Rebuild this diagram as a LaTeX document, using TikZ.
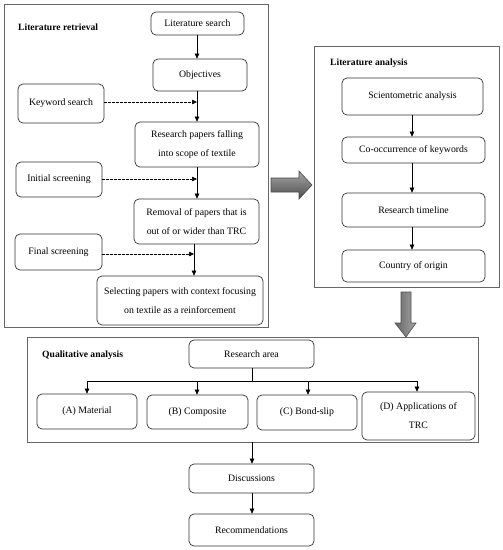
\documentclass[tikz,border=0pt]{standalone}
\usepackage{fontspec}
\setmainfont{Liberation Serif}
\usetikzlibrary{arrows.meta,calc}
\begin{document}
\begin{tikzpicture}[x=1pt,y=-1pt,
  box/.style={draw=black!80, line width=0.7pt, rounded corners=5pt, align=center,
    inner sep=1pt, font=\fontsize{9.8}{19}\selectfont},
  frame/.style={draw=black!60, line width=0.8pt},
  title/.style={anchor=west, font=\fontsize{9.6}{11}\selectfont\bfseries, inner sep=0pt},
  arr/.style={-{Triangle[length=5pt,width=4.5pt]}, line width=0.6pt},
  darr/.style={-{Triangle[length=5pt,width=4.5pt]}, line width=0.6pt, dashed, dash pattern=on 2.5pt off 1.5pt},
  bigarrow/.style={draw=black!70, line width=0.6pt}
]
\useasboundingbox (0,0) rectangle (503,550);

% ---- Frame 1: Literature retrieval
\draw[frame] (4,4) rectangle (268,327);
\node[title] (t1) at (18,27) {Literature retrieval};
\node[box, minimum width=93pt, minimum height=23pt] (ls) at (197.5,23.5) {Literature search};
\node[box, minimum width=94pt, minimum height=32pt] (obj) at (200,75) {Objectives};
\node[box, minimum width=86pt, minimum height=39pt] (kw) at (61,103.5) {Keyword search};
\node[box, minimum width=124pt, minimum height=45pt] (rp) at (197,144.5) {Research papers falling\\into scope of textile};
\node[box, minimum width=86pt, minimum height=35pt] (init) at (59,179.5) {Initial screening};
\node[box, minimum width=125pt, minimum height=45pt] (rem) at (196.5,221.5) {Removal of papers that is\\out of or wider than TRC};
\node[box, minimum width=87pt, minimum height=36pt] (fin) at (58.5,252) {Final screening};
\node[box, minimum width=166pt, minimum height=49pt] (sel) at (180,300.5) {Selecting papers with context focusing\\on textile as a reinforcement};

\coordinate (j1) at (197,102);
\coordinate (j2) at (197,179);
\coordinate (j3) at (194,254);
\draw[arr] (ls.south -| j1) -- (obj.north -| j1);
\draw[arr] (obj.south -| j1) -- (rp.north -| j1);
\draw[darr] (kw.east |- j1) -- (j1);
\draw[arr] (rp.south -| j2) -- (rem.north -| j2);
\draw[darr] (init.east |- j2) -- (j2);
\draw[arr] (rem.south -| j3) -- (sel.north -| j3);
\draw[darr] (fin.east |- j3) -- (j3);

% ---- Frame 2: Literature analysis
\draw[frame] (314,46) rectangle (499,287);
\node[title] (t2) at (330,63) {Literature analysis};
\node[box, minimum width=141pt, minimum height=37pt] (sci) at (412.5,96.5) {Scientometric analysis};
\node[box, minimum width=143pt, minimum height=26pt] (co) at (413.5,150) {Co-occurrence of keywords};
\node[box, minimum width=143pt, minimum height=34pt] (tl) at (413.5,210) {Research timeline};
\node[box, minimum width=143pt, minimum height=32pt] (cty) at (413.5,266) {Country of origin};
\coordinate (k) at (412,0);
\draw[arr] (sci.south -| k) -- (co.north -| k);
\draw[arr] (co.south -| k) -- (tl.north -| k);
\draw[arr] (tl.south -| k) -- (cty.north -| k);

% ---- big arrows
\path[bigarrow, top color=black!35, bottom color=black!70]
  (271,178) -- (299,178) -- (299,171) -- (312,185) -- (299,199) -- (299,192) -- (271,192) -- cycle;
\path[bigarrow, left color=black!60, right color=black!35]
  (401,292) -- (411,292) -- (411,323) -- (416,323) -- (406,337) -- (395,323) -- (401,323) -- cycle;

% ---- Frame 3: Qualitative analysis
\draw[frame] (27,337) rectangle (478,442);
\node[title] (t3) at (42,355) {Qualitative analysis};
\node[box, minimum width=125pt, minimum height=28pt] (ra) at (251.5,354) {Research area};
\node[box, minimum width=100pt, minimum height=35pt] (A) at (87,411.5) {(A) Material};
\node[box, minimum width=101pt, minimum height=34pt] (B) at (197.5,412) {(B) Composite};
\node[box, minimum width=100pt, minimum height=35pt] (C) at (307,412.5) {(C) Bond-slip};
\node[box, minimum width=113pt, minimum height=48pt] (D) at (418.5,416) {(D) Applications of\\TRC};
\coordinate (h) at (252,381);
\coordinate (ha) at (87,381);
\coordinate (hb) at (197,381);
\coordinate (hc) at (308,381);
\coordinate (hd) at (417,381);
\draw[line width=0.6pt] (ra.south -| h) -- (h);
\draw[line width=0.6pt] (ha) -- (hd);
\draw[arr] (ha) -- (A.north -| ha);
\draw[arr] (hb) -- (B.north -| hb);
\draw[arr] (hc) -- (C.north -| hc);
\draw[arr] (hd) -- (D.north -| hd);

\node[box, minimum width=125pt, minimum height=29pt] (disc) at (251.5,478.5) {Discussions};
\node[box, minimum width=125pt, minimum height=32pt] (rec) at (251.5,530) {Recommendations};
\coordinate (f3b) at (252,442);
\draw[arr] (f3b) -- (disc.north -| f3b);
\draw[arr] (disc.south -| f3b) -- (rec.north -| f3b);
\end{tikzpicture}
\end{document}
